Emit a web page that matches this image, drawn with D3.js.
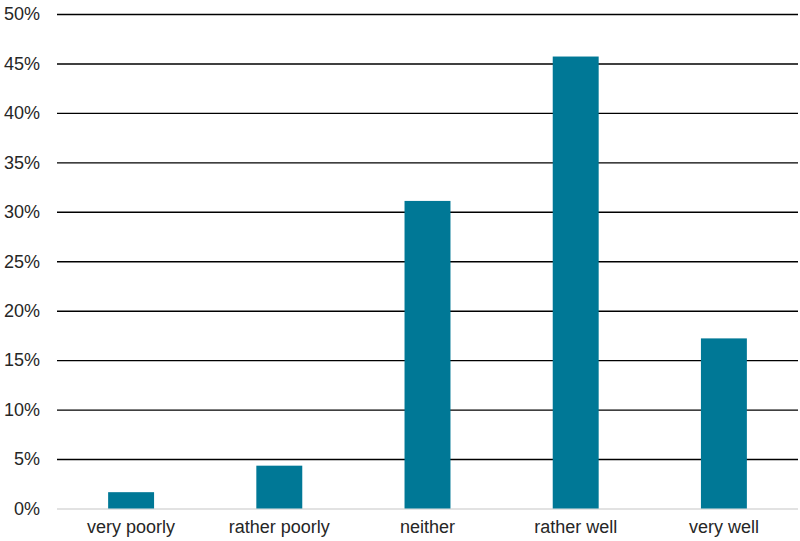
<!DOCTYPE html>
<html><head><meta charset="utf-8">
<script src="https://cdn.jsdelivr.net/npm/d3@7"></script>
<style>body{margin:0;background:#fff;} svg{display:block;}</style>
</head><body>
<svg id="chart" width="800" height="541"></svg>
<script>
const categories = ["very poorly","rather poorly","neither","rather well","very well"];
const values = [1.65, 4.33, 31.1, 45.7, 17.2];
const yTicks = [0,5,10,15,20,25,30,35,40,45,50];

const svg = d3.select("#chart");
const m = {left:57, right:2, top:14, bottom:32.5};
const W = 800, H = 541;
const x = d3.scaleBand().domain(categories).range([m.left, W-m.right]).paddingInner(0.69).paddingOuter(0.345);
const y = d3.scaleLinear().domain([0,50]).range([H-m.bottom, m.top]);
const font = "'Liberation Sans', Arial, sans-serif";

// gridlines
const yAxis = d3.axisLeft(y).tickValues(yTicks).tickFormat(d=>d+"%").tickSize(-(W-m.left-m.right)).tickPadding(17);
const ga = svg.append("g").attr("transform",`translate(${m.left},0)`).call(yAxis);
ga.select(".domain").remove();
ga.selectAll(".tick line").attr("stroke", d=> d===0 ? "#d9d9d9" : "#000").attr("stroke-width", d=> d===0?1.3:1.4);
ga.selectAll(".tick text").attr("fill","#262626").style("font-family",font).style("font-size","18px");

// bars
svg.append("g").selectAll("rect").data(categories).join("rect")
  .attr("x", d=>x(d)).attr("width", x.bandwidth())
  .attr("y", (d,i)=>y(values[i])).attr("height",(d,i)=>y(0)-y(values[i]))
  .attr("fill","#007896");

// x labels
const xAxis = d3.axisBottom(x).tickSize(0).tickPadding(12);
const gx = svg.append("g").attr("transform",`translate(0,${y(0)})`).call(xAxis);
gx.select(".domain").remove();
gx.selectAll(".tick text").attr("fill","#262626").style("font-family",font).style("font-size","18px");
</script>
</body></html>
